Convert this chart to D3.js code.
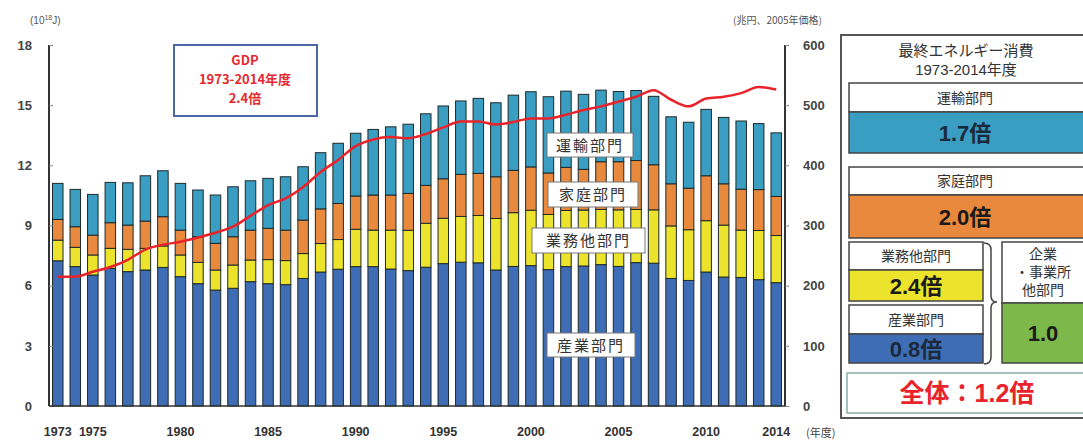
<!doctype html>
<meta charset='utf-8'>
<style>
  body { margin: 0; background: #fff; }
  text { font-family: "Liberation Sans", "Noto Sans CJK JP", sans-serif; }
  .jp { font-family: "Noto Sans CJK JP", sans-serif; }
</style>
<body>
<script src='https://cdn.jsdelivr.net/npm/d3@7/dist/d3.min.js'></script>
<script>

// final energy consumption by sector (10^18 J), fiscal years 1973-2014
var years = d3.range(1973, 2015);

var industry = [7.24, 6.95, 6.53, 6.86, 6.70, 6.78, 6.91, 6.45, 6.10, 5.78,
  5.87, 6.20, 6.10, 6.05, 6.36, 6.68, 6.82, 6.95, 6.95, 6.83,
  6.75, 6.92, 7.10, 7.17, 7.14, 6.78, 6.96, 7.00, 6.80, 6.95,
  6.98, 7.05, 6.96, 7.15, 7.12, 6.36, 6.26, 6.68, 6.43, 6.41,
  6.30, 6.15];
var business = [1.03, 0.96, 1.00, 1.00, 1.11, 1.08, 1.07, 1.08, 1.06, 1.00,
  1.16, 1.08, 1.20, 1.20, 1.24, 1.42, 1.48, 1.86, 1.82, 1.94,
  2.01, 2.19, 2.26, 2.28, 2.36, 2.57, 2.68, 2.76, 2.75, 2.80,
  2.79, 2.75, 2.82, 2.65, 2.66, 2.62, 2.53, 2.56, 2.59, 2.36,
  2.45, 2.35];
var household = [1.03, 1.03, 0.99, 1.28, 1.21, 1.36, 1.46, 1.24, 1.28, 1.33,
  1.41, 1.49, 1.56, 1.52, 1.67, 1.73, 1.80, 1.66, 1.75, 1.75,
  1.84, 1.89, 1.97, 2.10, 2.10, 2.08, 2.11, 2.16, 2.07, 2.15,
  2.03, 2.38, 2.40, 2.44, 2.25, 2.10, 2.07, 2.24, 2.06, 2.04,
  2.04, 1.95];
var transport = [1.80, 1.86, 2.03, 2.01, 2.11, 2.26, 2.29, 2.33, 2.33, 2.41,
  2.49, 2.46, 2.49, 2.66, 2.66, 2.80, 3.00, 3.13, 3.27, 3.40,
  3.45, 3.57, 3.63, 3.66, 3.74, 3.69, 3.75, 3.75, 3.80, 3.80,
  3.74, 3.57, 3.50, 3.49, 3.41, 3.34, 3.29, 3.31, 3.31, 3.40,
  3.29, 3.17];

// real GDP (trillion yen, 2005 prices)
var gdp = [215, 215, 223, 231, 243, 260, 268, 273, 280, 288,
  298, 316, 334, 345, 364, 389, 409, 432, 443, 447,
  445, 452, 463, 473, 473, 468, 472, 478, 478, 484,
  492, 498, 506, 514, 525, 509, 498, 511, 514, 520,
  530, 526];

var xTickYears = [1973, 1975, 1980, 1985, 1990, 1995, 2000, 2005, 2010, 2014];
var leftTicks = [0, 3, 6, 9, 12, 15, 18];
var rightTicks = [0, 100, 200, 300, 400, 500, 600];

var sectorKeys = ['industry', 'business', 'household', 'transport'];
var sectorColors = ['#3f6db5', '#ece42c', '#e8893d', '#3a9dc2'];

var ratioLabels = ['運輸部門', '家庭部門', '業務他部門', '産業部門'];
var ratioValues = ['1.7倍', '2.0倍', '2.4倍', '0.8倍'];

var width = 1083, height = 440;
var plotL = 49, plotR = 785, plotT = 45, plotB = 406;

var rows = years.map(function(yr, i) {
  return {year: yr, industry: industry[i], business: business[i],
          household: household[i], transport: transport[i]};
});

var svg = d3.select('body').append('svg')
  .attr('width', width)
  .attr('height', height);

var x = d3.scaleBand().domain(years).range([plotL, plotR]).paddingInner(0.4).paddingOuter(0.2);
var y = d3.scaleLinear().domain([0, 18]).range([plotB, plotT]);
var y2 = d3.scaleLinear().domain([0, 600]).range([plotB, plotT]);
var color = d3.scaleOrdinal().domain(sectorKeys).range(sectorColors);

var stacked = d3.stack().keys(sectorKeys)(rows);

// bars
svg.append('g').selectAll('g')
  .data(stacked)
  .enter().append('g')
    .attr('fill', function(d) { return color(d.key); })
  .selectAll('rect')
  .data(function(d) { return d; })
  .enter().append('rect')
    .attr('x', function(d) { return x(d.data.year); })
    .attr('y', function(d) { return y(d[1]); })
    .attr('width', x.bandwidth())
    .attr('height', function(d) { return y(d[0]) - y(d[1]); })
    .attr('stroke', '#1e2a2a')
    .attr('stroke-width', 1);

// axes
var axL = svg.append('g')
  .attr('transform', 'translate(' + plotL + ',0)')
  .call(d3.axisLeft(y).tickValues(leftTicks).tickSize(-4).tickPadding(17));
var axR = svg.append('g')
  .attr('transform', 'translate(' + plotR + ',0)')
  .call(d3.axisRight(y2).tickValues(rightTicks).tickSize(4).tickPadding(14));
var axB = svg.append('g')
  .attr('transform', 'translate(0,' + plotB + ')')
  .call(d3.axisBottom(x).tickValues(xTickYears).tickSize(0).tickPadding(21));

[axL, axR, axB].forEach(function(a) {
  a.select('.domain').attr('stroke', '#333').attr('stroke-width', 2);
  a.selectAll('.tick line').attr('stroke', '#888');
  a.selectAll('text')
    .attr('fill', '#444')
    .style('font-size', '13px')
    .style('font-weight', 'bold')
    .style('font-family', '"Liberation Sans", sans-serif');
});
axL.select('.domain').attr('d', 'M0,' + plotT + 'V' + plotB);
axR.select('.domain').attr('d', 'M0,' + plotT + 'V' + plotB);
axB.select('.domain').attr('d', 'M' + plotL + ',0H' + plotR).attr('stroke-width', 1.5);
axB.selectAll('text').attr('fill', '#333').style('font-size', '12.5px');

// unit labels
var unitL = svg.append('text').attr('x', 30).attr('y', 24)
  .attr('fill', '#555').style('font-size', '10px');
unitL.append('tspan').text('(10');
unitL.append('tspan').attr('dy', -4).style('font-size', '7px').text('18');
unitL.append('tspan').attr('dy', 4).text('J)');
svg.append('text').attr('class', 'jp').attr('x', 822).attr('y', 24)
  .attr('text-anchor', 'end').attr('fill', '#555').style('font-size', '10px')
  .text('(兆円、2005年価格)');
svg.append('text').attr('class', 'jp').attr('x', 806).attr('y', 437)
  .attr('fill', '#444').style('font-size', '11px')
  .text('(年度)');

// GDP line
var line = d3.line()
  .x(function(d, i) { return x(years[i]) + x.bandwidth() / 2; })
  .y(function(d) { return y2(d); })
  .curve(d3.curveMonotoneX);
svg.append('path')
  .datum(gdp)
  .attr('d', line)
  .attr('fill', 'none')
  .attr('stroke', '#e8232b')
  .attr('stroke-width', 2.5);

// in-chart sector labels
var inLabels = [
  {t: '運輸部門', x: 547, y: 133, w: 86, h: 24},
  {t: '家庭部門', x: 548, y: 182, w: 90, h: 25},
  {t: '業務他部門', x: 532, y: 228, w: 113, h: 25},
  {t: '産業部門', x: 547, y: 333, w: 88, h: 24}
];
var lab = svg.append('g').selectAll('g').data(inLabels).enter().append('g');
lab.append('rect')
  .attr('x', function(d) { return d.x; }).attr('y', function(d) { return d.y; })
  .attr('width', function(d) { return d.w; }).attr('height', function(d) { return d.h; })
  .attr('fill', '#fff').attr('stroke', '#777').attr('stroke-width', 1);
lab.append('text').attr('class', 'jp')
  .attr('x', function(d) { return d.x + d.w / 2; })
  .attr('y', function(d) { return d.y + d.h / 2 + 5.5; })
  .attr('text-anchor', 'middle').attr('fill', '#333')
  .style('font-size', '15px').style('letter-spacing', '2px')
  .text(function(d) { return d.t; });

// GDP box
var g = svg.append('g');
g.append('rect').attr('x', 174).attr('y', 45).attr('width', 143).attr('height', 71)
  .attr('fill', '#fff').attr('stroke', '#4a68a8').attr('stroke-width', 2);
['GDP', '1973-2014年度', '2.4倍'].forEach(function(t, i) {
  g.append('text').attr('class', 'jp').attr('x', 245).attr('y', 65 + i * 19)
    .attr('text-anchor', 'middle').attr('fill', '#e52a30')
    .style('font-size', '13px').style('font-weight', 'bold').text(t);
});

// summary panel
var p = svg.append('g').attr('class', 'jp');
p.append('rect').attr('x', 841).attr('y', 35).attr('width', 260).attr('height', 383)
  .attr('fill', '#fff').attr('stroke', '#555').attr('stroke-width', 2);
p.append('text').attr('x', 966).attr('y', 56).attr('text-anchor', 'middle')
  .attr('fill', '#333').style('font-size', '15px').text('最終エネルギー消費');
p.append('text').attr('x', 966).attr('y', 75).attr('text-anchor', 'middle')
  .attr('fill', '#333').style('font-size', '15px').text('1973-2014年度');

function ratioBox(lbl, val, fill, bx, by, bw, h1, h2, valColor) {
  var cx = bw > 200 ? 965 : bx + bw / 2;
  p.append('rect').attr('x', bx).attr('y', by).attr('width', bw).attr('height', h1)
    .attr('fill', '#fff').attr('stroke', '#444').attr('stroke-width', 1.5);
  p.append('text').attr('x', cx).attr('y', by + h1 / 2 + 5)
    .attr('text-anchor', 'middle').attr('fill', '#333').style('font-size', '14px').text(lbl);
  p.append('rect').attr('x', bx).attr('y', by + h1).attr('width', bw).attr('height', h2)
    .attr('fill', fill).attr('stroke', '#444').attr('stroke-width', 1.5);
  p.append('text').attr('x', cx).attr('y', by + h1 + h2 / 2 + 8)
    .attr('text-anchor', 'middle').attr('fill', valColor).style('font-size', '22px')
    .style('font-weight', 'bold').text(val);
}
ratioBox(ratioLabels[0], ratioValues[0], color('transport'), 849, 83, 250, 29, 41, '#1a2a3a');
ratioBox(ratioLabels[1], ratioValues[1], color('household'), 849, 167, 250, 28, 43, '#1a1a1a');
ratioBox(ratioLabels[2], ratioValues[2], color('business'), 849, 242, 134, 28, 31, '#1a1a1a');
ratioBox(ratioLabels[3], ratioValues[3], color('industry'), 849, 305, 134, 29, 29, '#1a2a3a');

// brace
p.append('path')
  .attr('d', 'M984,243 Q991,243 991,250 V296 Q991,302 997,302 Q991,302 991,308 V357 Q991,364 984,364')
  .attr('fill', 'none').attr('stroke', '#444').attr('stroke-width', 1.5);

// enterprise total box
p.append('rect').attr('x', 1002).attr('y', 242).attr('width', 100).attr('height', 61)
  .attr('fill', '#fff').attr('stroke', '#444').attr('stroke-width', 1.5);
['企業', '・事業所', '他部門'].forEach(function(t, i) {
  p.append('text').attr('x', 1043).attr('y', 259 + i * 18).attr('text-anchor', 'middle')
    .attr('fill', '#333').style('font-size', '14px').text(t);
});
p.append('rect').attr('x', 1002).attr('y', 303).attr('width', 100).attr('height', 60)
  .attr('fill', '#7cb84a').attr('stroke', '#444').attr('stroke-width', 1.5);
p.append('text').attr('x', 1043).attr('y', 341).attr('text-anchor', 'middle')
  .attr('fill', '#1a1a1a').style('font-size', '22px').style('font-weight', 'bold').text('1.0');

// overall
p.append('rect').attr('x', 847).attr('y', 373).attr('width', 250).attr('height', 40)
  .attr('fill', '#fff').attr('stroke', '#8aa').attr('stroke-width', 1.5);
p.append('text').attr('x', 967).attr('y', 402).attr('text-anchor', 'middle')
  .attr('fill', '#e8232b').style('font-size', '25px').style('font-weight', 'bold')
  .text('全体：1.2倍');

</script>
